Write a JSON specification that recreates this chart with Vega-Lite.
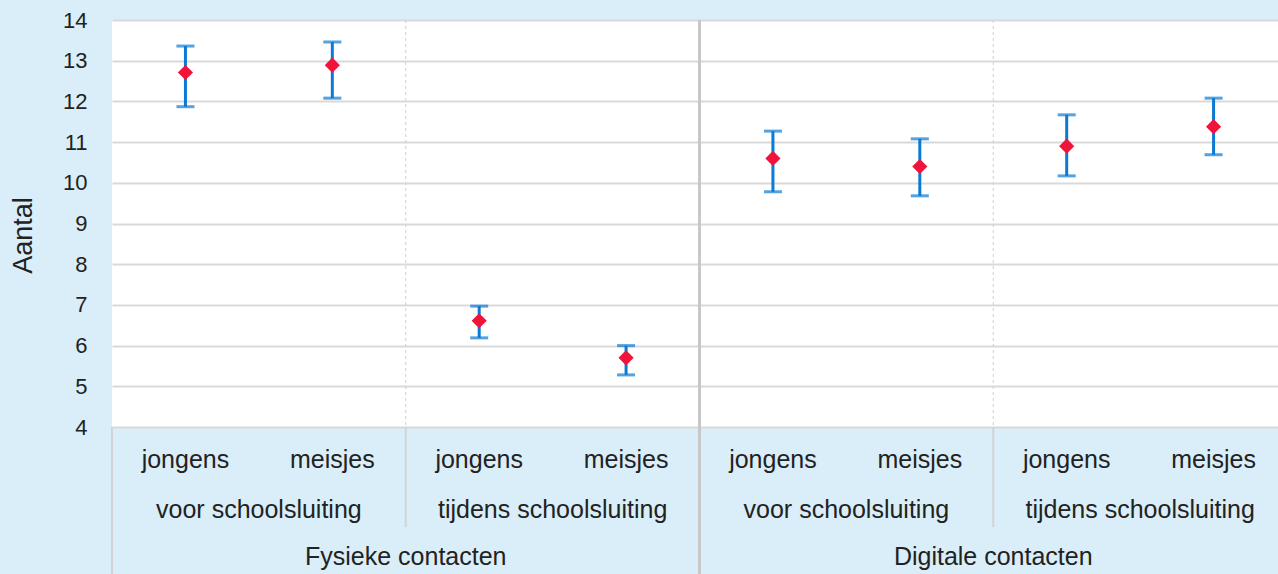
{
  "$schema": "https://vega.github.io/schema/vega-lite/v6.json",
  "width": 1166,
  "height": 407,
  "autosize": {"type": "none"},
  "padding": {"left": 112, "top": 20, "right": 0, "bottom": 147},
  "background": "#D9EEF9",
  "config": {"view": {"fill": "#FFFFFF", "stroke": null}, "font": "Liberation Sans"},
  "data": {"values": [
    {"cat": "F-v-j", "type": "Fysieke contacten", "period": "voor schoolsluiting", "gender": "jongens", "mean": 12.71, "lo": 11.87, "hi": 13.36},
    {"cat": "F-v-m", "type": "Fysieke contacten", "period": "voor schoolsluiting", "gender": "meisjes", "mean": 12.89, "lo": 12.08, "hi": 13.46},
    {"cat": "F-t-j", "type": "Fysieke contacten", "period": "tijdens schoolsluiting", "gender": "jongens", "mean": 6.61, "lo": 6.19, "hi": 6.97},
    {"cat": "F-t-m", "type": "Fysieke contacten", "period": "tijdens schoolsluiting", "gender": "meisjes", "mean": 5.7, "lo": 5.28, "hi": 6.0},
    {"cat": "D-v-j", "type": "Digitale contacten", "period": "voor schoolsluiting", "gender": "jongens", "mean": 10.6, "lo": 9.78, "hi": 11.27},
    {"cat": "D-v-m", "type": "Digitale contacten", "period": "voor schoolsluiting", "gender": "meisjes", "mean": 10.4, "lo": 9.68, "hi": 11.08},
    {"cat": "D-t-j", "type": "Digitale contacten", "period": "tijdens schoolsluiting", "gender": "jongens", "mean": 10.9, "lo": 10.17, "hi": 11.67},
    {"cat": "D-t-m", "type": "Digitale contacten", "period": "tijdens schoolsluiting", "gender": "meisjes", "mean": 11.38, "lo": 10.69, "hi": 12.08}
  ]},
  "encoding": {
    "x": {"field": "cat", "type": "nominal", "scale": {"domain": ["F-v-j", "F-v-m", "F-t-j", "F-t-m", "D-v-j", "D-v-m", "D-t-j", "D-t-m"], "range": [0, 1175], "paddingInner": 0, "paddingOuter": 0}, "axis": null}
  },
  "layer": [
    {
      "transform": [{"filter": "datum.gender == 'jongens' && datum.period == 'tijdens schoolsluiting'"}],
      "mark": {"type": "rule", "color": "#CFCFCF", "strokeWidth": 1, "strokeDash": [3, 3]},
      "encoding": {"x": {"field": "cat", "type": "nominal", "bandPosition": 0}, "y": {"datum": 14}, "y2": {"datum": 4}}
    },
    {
      "transform": [{"filter": "datum.gender == 'jongens'"}],
      "mark": {"type": "rule", "color": "#D3D3D3", "strokeWidth": 2},
      "encoding": {"x": {"field": "cat", "type": "nominal", "bandPosition": 0}, "y": {"datum": 4}, "y2": {"datum": 1.54}}
    },
    {
      "transform": [{"filter": "datum.gender == 'jongens' && datum.period == 'voor schoolsluiting' && datum.type == 'Fysieke contacten'"}],
      "mark": {"type": "rule", "color": "#D3D3D3", "strokeWidth": 2},
      "encoding": {"x": {"field": "cat", "type": "nominal", "bandPosition": 0}, "y": {"datum": 4}, "y2": {"datum": 0.2}}
    },
    {
      "transform": [{"filter": "datum.gender == 'jongens' && datum.period == 'voor schoolsluiting' && datum.type == 'Digitale contacten'"}],
      "mark": {"type": "rule", "color": "#C8C8C8", "strokeWidth": 3},
      "encoding": {"x": {"field": "cat", "type": "nominal", "bandPosition": 0}, "y": {"datum": 14}, "y2": {"datum": 0.2}}
    },
    {
      "mark": {"type": "rule", "color": "#0A7AD4", "strokeWidth": 3},
      "encoding": {
        "y": {"field": "lo", "type": "quantitative",
          "scale": {"domain": [4, 14], "nice": false, "zero": false},
          "axis": {"values": [4, 5, 6, 7, 8, 9, 10, 11, 12, 13, 14], "grid": true, "gridColor": "#D9D9D9", "gridWidth": 2, "domain": false, "ticks": false,
            "labelFontSize": 22, "labelColor": "#222222", "labelPadding": 25,
            "title": "Aantal", "titleFontSize": 27, "titleFontWeight": "normal", "titleColor": "#222222", "titleX": -75, "titleY": 215}},
        "y2": {"field": "hi"}
      }
    },
    {
      "mark": {"type": "tick", "color": "#0A7AD4", "size": 18, "thickness": 3},
      "encoding": {"y": {"field": "lo", "type": "quantitative"}}
    },
    {
      "mark": {"type": "tick", "color": "#0A7AD4", "size": 18, "thickness": 3},
      "encoding": {"y": {"field": "hi", "type": "quantitative"}}
    },
    {
      "mark": {"type": "point", "shape": "diamond", "filled": true, "color": "#F0143C", "size": 230, "opacity": 1},
      "encoding": {"y": {"field": "mean", "type": "quantitative"}}
    },
    {
      "mark": {"type": "text", "fontSize": 25, "color": "#222222", "baseline": "middle"},
      "encoding": {"y": {"datum": 3.2}, "text": {"field": "gender"}}
    },
    {
      "transform": [{"filter": "datum.gender == 'jongens'"}],
      "mark": {"type": "text", "fontSize": 25, "color": "#222222", "baseline": "middle"},
      "encoding": {"x": {"field": "cat", "type": "nominal", "bandPosition": 1}, "y": {"datum": 1.97}, "text": {"field": "period"}}
    },
    {
      "transform": [{"filter": "datum.gender == 'jongens' && datum.period == 'tijdens schoolsluiting'"}],
      "mark": {"type": "text", "fontSize": 25, "color": "#222222", "baseline": "middle"},
      "encoding": {"x": {"field": "cat", "type": "nominal", "bandPosition": 0}, "y": {"datum": 0.8}, "text": {"field": "type"}}
    }
  ]
}
